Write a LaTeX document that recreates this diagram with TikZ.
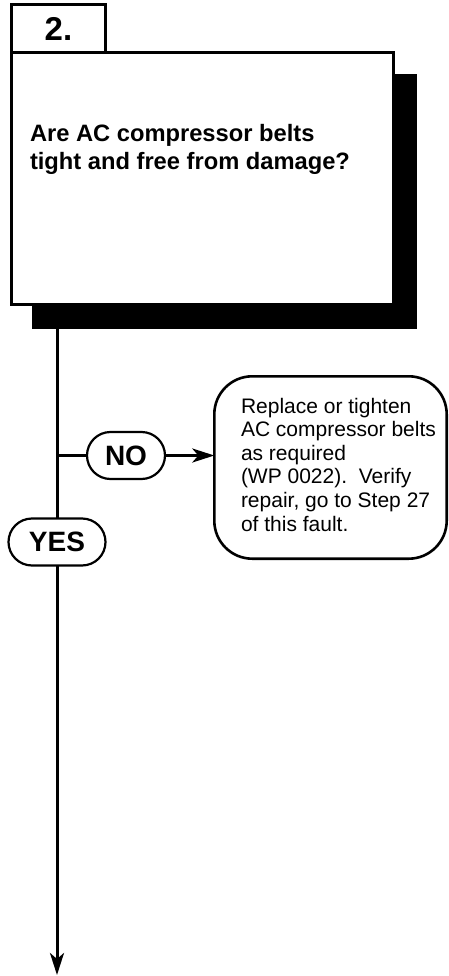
\documentclass[tikz,border=0pt]{standalone}
\usepackage{fontspec}
\setmainfont{Liberation Sans}
\usetikzlibrary{positioning, shapes.misc, shadows, arrows.meta}

\begin{document}
\begin{tikzpicture}[x=1pt, y=-1pt,
    every node/.style={outer sep=0pt, inner sep=0pt},
    stepbox/.style={draw, line width=3pt, fill=white},
    pill/.style={draw, rounded rectangle, line width=2.2pt, fill=white, minimum height=47pt,
      font=\fontsize{28}{32}\selectfont\bfseries},
    flow/.style={line width=3pt},
    tip/.style={-{Stealth[length=22pt, width=14pt, inset=6pt]}}]
    \useasboundingbox (0,0) rectangle (448,976);

    \node[stepbox, minimum width=382pt, minimum height=252pt,
      drop shadow={shadow xshift=22pt, shadow yshift=-23pt, opacity=1, fill=black, draw=black}]
      (Q) at (202.5,178.5) {};
    \node[stepbox, minimum width=94pt, minimum height=47.5pt,
      above right=0pt and 0pt of Q.north west, font=\fontsize{33}{38}\selectfont\bfseries] (N) {2.};
    \node[anchor=base west, align=left, font=\fontsize{23.7}{28}\selectfont\bfseries]
      (QT) at (30,170) {Are AC compressor belts\\tight and free from damage?};

    \node[pill, minimum width=97pt] (Y) at (57,542) {YES};
    \node[pill, minimum width=78pt] (NO) at (126,455.5) {NO};
    \node[draw, rounded corners=38pt, line width=2.6pt, minimum width=232.4pt, minimum height=182.4pt]
      (R) at (330.5,467.5) {};
    \node[anchor=base west, align=left, font=\fontsize{21}{23.6}\selectfont]
      (RT) at (241,531) {Replace or tighten\\AC compressor belts\\as required\\(WP 0022).\ \ Verify\\repair, go to Step 27\\of this fault.};
    \coordinate (E) at (57,975);

    \draw[flow] (Q.south -| Y) -- (Y.north);
    \draw[flow, tip] (Y.south) -- (E);
    \draw[flow] (NO.west -| Y) -- (NO.west);
    \draw[flow, tip] (NO.east) -- (NO.east -| R.west);
\end{tikzpicture}
\end{document}
